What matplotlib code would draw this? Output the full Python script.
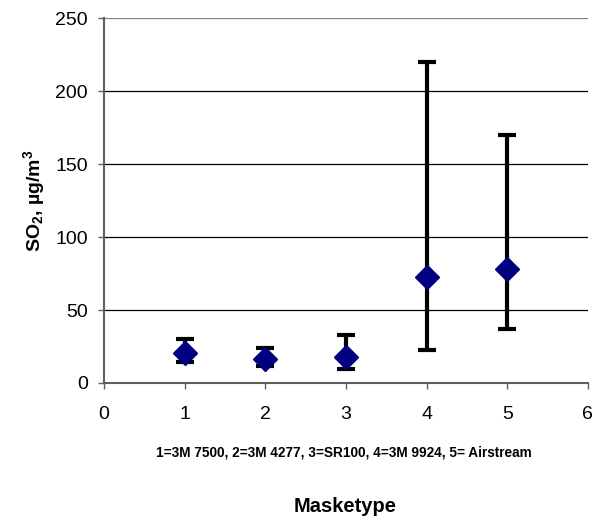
import matplotlib.pyplot as plt
import numpy as np

plt.rcParams['font.family'] = ['Liberation Sans', 'DejaVu Sans']
plt.rcParams['mathtext.fontset'] = 'custom'
plt.rcParams['mathtext.rm'] = 'Liberation Sans:bold'
plt.rcParams['mathtext.it'] = 'Liberation Sans:bold'
plt.rcParams['mathtext.bf'] = 'Liberation Sans:bold'

# mask type index, mean SO2 and error-bar ends
masks = [1, 2, 3, 4, 5]
mean_so2 = [20.7, 16.6, 17.6, 72.6, 77.9]
upper = [30.0, 23.7, 32.7, 220.0, 170.0]
lower = [14.4, 11.8, 9.6, 22.6, 36.8]

mean = np.array(mean_so2)
yerr = [mean - np.array(lower), np.array(upper) - mean]

fig = plt.figure(figsize=(6.08, 5.2), dpi=100)
ax = fig.add_axes([0.171, 0.2635, 0.796, 0.7015])

ax.set_xlim(0, 6)
ax.set_ylim(0, 250)
ax.set_yticks(range(0, 251, 50))
ax.set_xticks(range(0, 7))
for v in range(50, 251, 50):
    ax.axhline(v, color='black' if v < 250 else '#808080', linewidth=0.9, zorder=1)

eb = ax.errorbar(masks, mean_so2, yerr=yerr, fmt='none', ecolor='black',
                 elinewidth=3, capsize=6.5, capthick=3, zorder=2)
ax.plot(masks, mean_so2, linestyle='none', marker='D', markersize=12,
        color='#000080', zorder=3)

for s in ['top', 'right']:
    ax.spines[s].set_visible(False)
for s in ['left', 'bottom']:
    ax.spines[s].set_color('#606060')
    ax.spines[s].set_linewidth(1.5)
ax.tick_params(axis='both', direction='out', length=4.5, width=1, color='#606060',
               labelsize=14)
ax.tick_params(axis='y', pad=7)
ax.tick_params(axis='x', pad=12)

ax.set_ylabel('SO$_2$, µg/m$^3$', fontsize=14, fontweight='bold')
ax.yaxis.set_label_coords(-0.118, 0.5)
fig.text(0.566, 0.129, '1=3M 7500, 2=3M 4277, 3=SR100, 4=3M 9924, 5= Airstream',
         ha='center', va='center', fontsize=9.8, fontweight='bold')
fig.text(0.567, 0.025, 'Masketype', ha='center', va='center',
         fontsize=14.5, fontweight='bold')

fig.savefig('out.png', dpi=100)
